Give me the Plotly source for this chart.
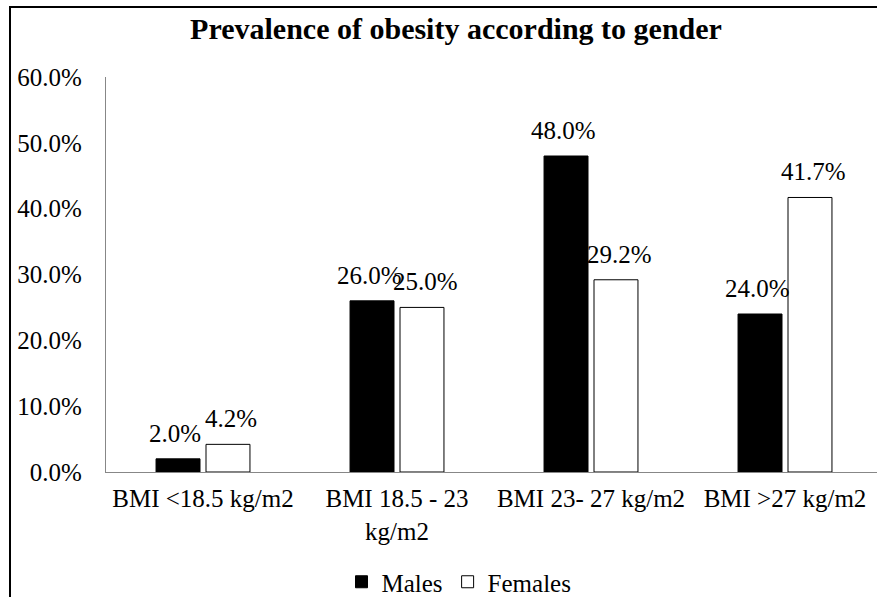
import plotly.graph_objects as go

# Data
categories = ["BMI <18.5 kg/m2", "BMI 18.5 - 23<br>kg/m2", "BMI 23- 27 kg/m2", "BMI >27 kg/m2"]
males = [0.020, 0.260, 0.480, 0.240]
females = [0.042, 0.250, 0.292, 0.417]
y_ticks = [0.0, 0.1, 0.2, 0.3, 0.4, 0.5, 0.6]
y_tick_labels = ["0.0%", "10.0%", "20.0%", "30.0%", "40.0%", "50.0%", "60.0%"]

FONT = "Liberation Serif, Times New Roman, serif"
W, H = 877, 597
ML, MR, MT, MB = 106, 0, 77, 125
PW, PH = W - ML - MR, H - MT - MB

fig = go.Figure()
fig.add_trace(go.Bar(
    name="Males", x=categories, y=males,
    marker=dict(color="black", line=dict(color="black", width=1)),
))
fig.add_trace(go.Bar(
    name="Females", x=categories, y=females,
    marker=dict(color="white", line=dict(color="black", width=1)),
))

# value labels above each bar
annotations = []
for vals, shift in ((males, -28), (females, 28)):
    for cat, v in zip(categories, vals):
        annotations.append(dict(
            x=cat, y=v, xref="x", yref="y", text=f"{v * 100:.1f}%",
            showarrow=False, xshift=shift, yanchor="bottom", yshift=10,
            font=dict(family=FONT, size=25, color="black"),
        ))


# pixel -> paper helpers
def px_x(p):
    return (p - ML) / PW


def px_y(p):
    return (H - MB - p) / PH


# outer chart frame
fig.add_shape(type="rect", xref="paper", yref="paper",
              x0=px_x(10), x1=px_x(903), y0=px_y(610), y1=px_y(7),
              line=dict(color="black", width=2), fillcolor="rgba(0,0,0,0)",
              layer="below")

fig.update_layout(
    width=W, height=H,
    margin=dict(l=ML, r=MR, t=MT, b=MB, autoexpand=False),
    paper_bgcolor="white", plot_bgcolor="white",
    barmode="group", bargap=0.485, bargroupgap=0.12,
    title=dict(text="<b>Prevalence of obesity according to gender</b>",
               x=456 / W, xanchor="center", xref="container",
               y=1 - 28 / H, yanchor="middle", yref="container",
               font=dict(family=FONT, size=30, color="black")),
    font=dict(family=FONT, size=25, color="black"),
    showlegend=True,
    legend=dict(orientation="h", x=px_x(459), xanchor="center",
                y=px_y(582), yanchor="middle",
                font=dict(family=FONT, size=25, color="black"),
                itemwidth=30, traceorder="normal"),
    annotations=annotations,
)
fig.update_xaxes(
    range=[-0.5, -0.5 + PW / 194.0],
    showline=True, linecolor="#878787", linewidth=1.3,
    showgrid=False, zeroline=False, ticks="", ticklabelstandoff=4,
    tickfont=dict(family=FONT, size=25, color="black"),
)
fig.update_yaxes(
    range=[0, 0.6], tickvals=y_ticks, ticktext=y_tick_labels,
    showline=True, linecolor="#878787", linewidth=1.3,
    showgrid=False, zeroline=False, ticks="", ticklabelstandoff=18,
    tickfont=dict(family=FONT, size=25, color="black"),
)

fig.write_html("out.html")
